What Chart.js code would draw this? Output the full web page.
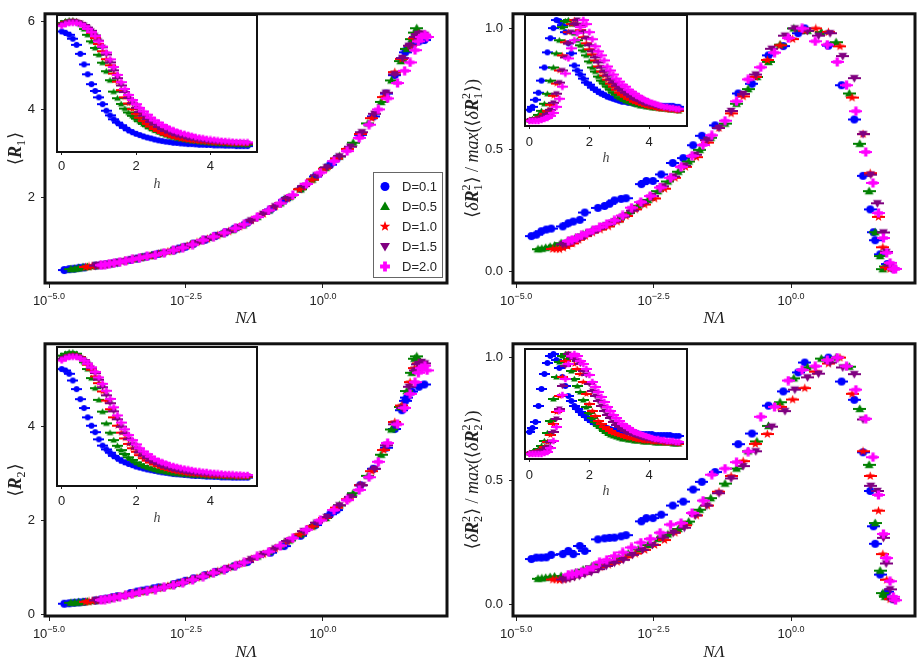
<!DOCTYPE html>
<html>
<head>
<meta charset="utf-8">
<script src="https://cdn.jsdelivr.net/npm/chart.js@4.4.1/dist/chart.umd.min.js"></script>
<style>
  body{margin:0;background:#fff;width:922px;height:664px;overflow:hidden;position:relative;font-family:'Liberation Sans',Arial,sans-serif}
  canvas{position:absolute}
  #legend{position:absolute;left:373px;top:172px;width:70px;height:106px;border:1px solid #666;box-sizing:border-box;background:#fff}
  .lrow{position:absolute;left:6px;height:16px;display:flex;align-items:center;font-size:13px;color:#222;white-space:nowrap}
  .licon{position:static;margin-right:12px}
</style>
</head>
<body>
<canvas id="p1" width="460" height="330" style="left:0;top:0"></canvas>
<canvas id="p2" width="462" height="330" style="left:460px;top:0"></canvas>
<canvas id="p3" width="460" height="334" style="left:0;top:330px"></canvas>
<canvas id="p4" width="462" height="334" style="left:460px;top:330px"></canvas>
<canvas id="i1" width="230" height="185" style="left:40px;top:10px"></canvas>
<canvas id="i2" width="190" height="159" style="left:510px;top:10px"></canvas>
<canvas id="i3" width="230" height="189" style="left:40px;top:340px"></canvas>
<canvas id="i4" width="190" height="160" style="left:510px;top:342px"></canvas>
<div id="legend"></div>
<script>
// ---- data ----
const seriesLabels = ['D=0.1', 'D=0.5', 'D=1.0', 'D=1.5', 'D=2.0'];
const xTickExp = [-5, -2.5, 0];
const xTickText = ['\u22125.0', '\u22122.5', '0.0'];
const yTicksR1 = [2, 4, 6], yLabelsR1 = ['2', '4', '6'];
const yTicksR2 = [0, 2, 4], yLabelsR2 = ['0', '2', '4'];
const yTicksDR = [0, 0.5, 1], yLabelsDR = ['0.0', '0.5', '1.0'];
const hTicks = [0, 2, 4], hLabels = ['0', '2', '4'];

// log10(N Lambda) of every point, per D
const logNL_D01 = [-4.72,-4.63,-4.54,-4.45,-4.36,-4.15,-4.05,-3.96,-3.84,-3.75,-3.51,-3.39,-3.30,-3.21,-3.09,-3.00,-2.72,-2.63,-2.51,-2.36,-2.15,-1.96,-1.78,-1.62,-1.38,-0.96,-0.71,-0.41,-0.14,0.13,0.25,0.68,0.92,1.15,1.31,1.44,1.50,1.53,1.62,1.75,1.85];
const logNL_D05 = [-4.60,-4.53,-4.46,-4.38,-4.30,-4.18,-4.05,-3.92,-3.78,-3.62,-3.46,-3.30,-3.13,-2.96,-2.78,-2.60,-2.42,-2.24,-2.05,-1.86,-1.66,-1.46,-1.20,-0.99,-0.78,-0.62,-0.41,-0.20,0.05,0.30,0.55,0.82,1.06,1.25,1.42,1.53,1.62,1.67,1.71];
const logNL_D10 = [-4.33,-4.27,-4.21,-4.14,-4.06,-3.97,-3.86,-3.74,-3.61,-3.47,-3.32,-3.16,-3.00,-2.83,-2.66,-2.48,-2.30,-2.11,-1.92,-1.72,-1.52,-1.31,-1.09,-0.87,-0.65,-0.43,-0.20,0.03,0.25,0.45,0.68,0.89,1.11,1.31,1.44,1.59,1.67,1.74,1.80];
const logNL_D15 = [-4.15,-4.09,-4.02,-3.94,-3.85,-3.75,-3.63,-3.50,-3.36,-3.21,-3.05,-2.88,-2.70,-2.52,-2.33,-2.14,-1.94,-1.74,-1.53,-1.31,-1.09,-0.87,-0.64,-0.35,-0.11,0.07,0.30,0.50,0.71,0.94,1.15,1.31,1.45,1.57,1.68,1.73,1.80,1.86];
const logNL_D20 = [-4.05,-3.98,-3.90,-3.81,-3.71,-3.60,-3.48,-3.35,-3.21,-3.06,-2.90,-2.73,-2.56,-2.38,-2.19,-2.00,-1.80,-1.60,-1.44,-1.20,-0.99,-0.78,-0.55,-0.30,-0.05,0.20,0.44,0.66,0.84,1.01,1.18,1.36,1.49,1.59,1.68,1.74,1.80,1.86,1.90];

const R1_D01 = [0.34,0.36,0.37,0.39,0.40,0.44,0.45,0.47,0.49,0.51,0.57,0.60,0.63,0.65,0.68,0.71,0.79,0.83,0.87,0.94,1.03,1.12,1.20,1.28,1.42,1.72,1.93,2.19,2.47,2.74,2.88,3.42,3.84,4.36,4.78,5.15,5.30,5.37,5.48,5.55,5.58];
const R1_D05 = [0.36,0.37,0.38,0.40,0.41,0.43,0.45,0.47,0.51,0.55,0.59,0.63,0.67,0.72,0.77,0.84,0.92,1.0,1.08,1.16,1.25,1.36,1.55,1.70,1.86,2.0,2.18,2.40,2.67,2.93,3.24,3.68,4.17,4.66,5.10,5.38,5.60,5.75,5.85];
const R1_D10 = [0.41,0.42,0.43,0.44,0.45,0.46,0.48,0.51,0.55,0.59,0.62,0.66,0.71,0.76,0.81,0.89,0.97,1.05,1.13,1.22,1.33,1.47,1.62,1.79,1.97,2.18,2.40,2.65,2.88,3.10,3.44,3.80,4.28,4.85,5.15,5.45,5.62,5.72,5.70];
const R1_D15 = [0.44,0.45,0.46,0.47,0.49,0.51,0.54,0.58,0.61,0.65,0.69,0.74,0.80,0.87,0.95,1.04,1.12,1.21,1.32,1.47,1.62,1.79,1.98,2.25,2.50,2.68,2.93,3.15,3.48,3.90,4.38,4.80,5.17,5.45,5.65,5.72,5.73,5.70];
const R1_D20 = [0.45,0.46,0.48,0.50,0.52,0.55,0.58,0.61,0.65,0.68,0.73,0.79,0.85,0.92,1.02,1.10,1.19,1.29,1.38,1.55,1.70,1.86,2.05,2.30,2.56,2.82,3.05,3.35,3.65,4.0,4.25,4.60,4.88,5.07,5.35,5.55,5.65,5.70,5.65];

const dR1_D01 = [0.145,0.151,0.165,0.172,0.176,0.185,0.198,0.205,0.212,0.242,0.261,0.269,0.278,0.292,0.298,0.301,0.359,0.372,0.372,0.399,0.446,0.466,0.519,0.558,0.601,0.732,0.772,0.889,0.927,0.98,1.0,0.929,0.766,0.625,0.393,0.255,0.161,0.128,0.07,0.03,0.012];
const dR1_D05 = [0.091,0.093,0.097,0.101,0.106,0.116,0.126,0.138,0.152,0.168,0.182,0.196,0.214,0.24,0.27,0.294,0.33,0.37,0.41,0.452,0.5,0.55,0.608,0.69,0.75,0.80,0.862,0.933,1.0,0.99,0.985,0.943,0.732,0.525,0.33,0.161,0.063,0.009,0.02];
const dR1_D10 = [0.092,0.092,0.091,0.097,0.105,0.115,0.13,0.145,0.16,0.172,0.185,0.205,0.228,0.255,0.275,0.30,0.34,0.385,0.43,0.47,0.53,0.59,0.65,0.72,0.80,0.87,0.93,0.956,0.99,1.0,0.985,0.926,0.715,0.565,0.404,0.224,0.099,0.016,0.01];
const dR1_D15 = [0.111,0.112,0.12,0.128,0.135,0.148,0.16,0.175,0.19,0.205,0.225,0.25,0.28,0.31,0.35,0.39,0.435,0.48,0.54,0.59,0.66,0.73,0.81,0.916,0.97,1.0,0.99,0.97,0.98,0.886,0.795,0.565,0.398,0.28,0.16,0.08,0.023,0.01];
const dR1_D20 = [0.125,0.13,0.138,0.148,0.158,0.17,0.182,0.195,0.21,0.23,0.262,0.285,0.31,0.345,0.385,0.43,0.475,0.52,0.56,0.62,0.70,0.79,0.84,0.90,0.96,1.0,0.947,0.933,0.862,0.766,0.659,0.491,0.364,0.24,0.137,0.076,0.035,0.009,0.01];

const R2_D01 = [0.22,0.23,0.24,0.25,0.26,0.29,0.31,0.33,0.36,0.38,0.45,0.48,0.50,0.52,0.55,0.57,0.64,0.67,0.71,0.76,0.83,0.90,0.96,1.02,1.11,1.31,1.45,1.67,1.90,2.13,2.22,2.75,3.10,3.55,3.95,4.35,4.55,4.62,4.75,4.85,4.90];
const R2_D05 = [0.24,0.245,0.25,0.255,0.265,0.28,0.30,0.32,0.36,0.40,0.44,0.48,0.52,0.56,0.61,0.67,0.73,0.79,0.86,0.93,1.01,1.09,1.23,1.33,1.46,1.57,1.70,1.87,2.05,2.32,2.58,2.95,3.40,3.94,4.42,4.76,5.15,5.45,5.50];
const R2_D10 = [0.26,0.27,0.28,0.29,0.30,0.32,0.34,0.37,0.40,0.44,0.47,0.51,0.55,0.60,0.65,0.71,0.77,0.84,0.91,0.99,1.07,1.17,1.28,1.40,1.55,1.70,1.87,2.05,2.27,2.45,2.75,3.05,3.50,4.10,4.45,4.95,5.25,5.35,5.35];
const R2_D15 = [0.29,0.30,0.31,0.32,0.34,0.36,0.39,0.42,0.46,0.49,0.53,0.58,0.63,0.69,0.76,0.83,0.90,0.98,1.06,1.17,1.28,1.40,1.56,1.77,1.95,2.07,2.32,2.50,2.75,3.10,3.60,4.05,4.40,4.85,5.20,5.33,5.38,5.35];
const R2_D20 = [0.30,0.31,0.33,0.35,0.37,0.40,0.43,0.46,0.49,0.52,0.57,0.62,0.67,0.73,0.80,0.88,0.95,1.03,1.10,1.23,1.33,1.46,1.62,1.80,2.00,2.22,2.43,2.65,2.92,3.25,3.65,4.05,4.40,4.70,4.95,5.15,5.25,5.30,5.20];

const dR2_D01 = [0.183,0.189,0.189,0.19,0.20,0.203,0.216,0.203,0.236,0.216,0.263,0.267,0.269,0.27,0.275,0.28,0.336,0.349,0.349,0.363,0.40,0.416,0.465,0.496,0.536,0.649,0.692,0.805,0.863,0.94,0.98,1.0,0.903,0.829,0.616,0.459,0.316,0.245,0.12,0.05,0.02];
const dR2_D05 = [0.103,0.105,0.107,0.110,0.112,0.114,0.118,0.128,0.14,0.154,0.163,0.172,0.188,0.205,0.222,0.24,0.265,0.283,0.305,0.335,0.383,0.43,0.489,0.55,0.62,0.66,0.723,0.819,0.916,0.96,0.996,1.0,0.963,0.792,0.565,0.329,0.136,0.045,0.03];
const dR2_D10 = [0.10,0.10,0.098,0.10,0.104,0.11,0.118,0.13,0.142,0.15,0.16,0.172,0.19,0.205,0.22,0.24,0.26,0.29,0.32,0.36,0.40,0.456,0.52,0.58,0.65,0.69,0.80,0.83,0.876,0.943,0.976,1.0,0.853,0.62,0.52,0.379,0.203,0.099,0.02];
const dR2_D15 = [0.10,0.102,0.105,0.11,0.115,0.122,0.13,0.142,0.155,0.168,0.18,0.20,0.22,0.24,0.27,0.29,0.31,0.36,0.40,0.45,0.51,0.56,0.62,0.72,0.783,0.87,0.92,0.935,0.98,0.96,0.933,0.749,0.48,0.459,0.269,0.165,0.06,0.02];
const dR2_D20 = [0.12,0.122,0.125,0.13,0.14,0.15,0.17,0.18,0.195,0.21,0.23,0.25,0.265,0.29,0.323,0.329,0.37,0.42,0.525,0.55,0.576,0.619,0.76,0.80,0.907,0.95,0.965,0.99,1.0,0.965,0.87,0.752,0.596,0.443,0.285,0.187,0.093,0.03,0.016];

// insets: quantity against h
const hGrid = [0,0.1,0.2,0.3,0.4,0.5,0.6,0.7,0.8,0.9,1,1.1,1.2,1.3,1.4,1.5,1.6,1.7,1.8,1.9,2,2.1,2.2,2.3,2.4,2.5,2.6,2.7,2.8,2.9,3,3.1,3.2,3.3,3.4,3.5,3.6,3.7,3.8,3.9,4,4.1,4.2,4.3,4.4,4.5,4.6,4.7,4.8,4.9,5];

const inR1_D01 = [5.49,5.43,5.34,5.16,4.88,4.47,3.99,3.54,3.09,2.78,2.49,2.18,1.88,1.67,1.49,1.34,1.22,1.10,0.99,0.90,0.83,0.77,0.71,0.66,0.62,0.57,0.53,0.50,0.47,0.45,0.42,0.41,0.39,0.38,0.36,0.36,0.35,0.33,0.33,0.32,0.32,0.30,0.30,0.30,0.29,0.29,0.29,0.27,0.27,0.27,0.27];
const inR1_D05 = [5.88,5.96,6.0,6.0,5.96,5.82,5.60,5.34,5.04,4.74,4.43,4.07,3.68,3.27,2.75,2.45,2.19,1.98,1.80,1.65,1.52,1.40,1.28,1.17,1.08,0.99,0.92,0.84,0.78,0.72,0.68,0.63,0.60,0.57,0.54,0.51,0.50,0.47,0.45,0.44,0.42,0.41,0.39,0.39,0.38,0.36,0.36,0.35,0.35,0.35,0.33];
const inR1_D10 = [5.82,5.90,5.94,5.96,5.94,5.88,5.78,5.63,5.43,5.19,4.92,4.59,4.23,3.95,3.57,3.20,2.82,2.49,2.21,1.95,1.74,1.56,1.41,1.28,1.16,1.05,0.96,0.87,0.80,0.74,0.69,0.65,0.60,0.57,0.54,0.51,0.50,0.48,0.47,0.45,0.44,0.42,0.42,0.41,0.41,0.39,0.39,0.39,0.38,0.38,0.38];
const inR1_D15 = [5.79,5.87,5.93,5.94,5.93,5.88,5.79,5.67,5.52,5.31,5.07,4.77,4.44,4.08,3.72,3.36,3.03,2.73,2.46,2.22,2.01,1.82,1.65,1.50,1.37,1.25,1.14,1.05,0.96,0.89,0.83,0.77,0.72,0.68,0.63,0.60,0.57,0.54,0.53,0.50,0.48,0.47,0.45,0.44,0.44,0.42,0.42,0.41,0.41,0.41,0.39];
const inR1_D20 = [5.75,5.82,5.87,5.88,5.87,5.82,5.73,5.61,5.46,5.28,5.04,4.80,4.53,4.22,3.87,3.51,3.18,2.87,2.60,2.37,2.18,2.01,1.85,1.70,1.56,1.44,1.34,1.23,1.14,1.07,0.99,0.93,0.87,0.83,0.78,0.74,0.69,0.66,0.63,0.60,0.57,0.56,0.53,0.51,0.50,0.48,0.47,0.45,0.45,0.44,0.44];

const inR2_D01 = [4.89,4.83,4.69,4.41,4.05,3.63,3.26,2.87,2.52,2.25,1.95,1.69,1.53,1.39,1.26,1.16,1.06,0.99,0.92,0.87,0.81,0.77,0.73,0.69,0.66,0.63,0.60,0.57,0.55,0.53,0.50,0.49,0.48,0.46,0.45,0.43,0.42,0.42,0.41,0.39,0.39,0.38,0.38,0.36,0.36,0.36,0.35,0.35,0.35,0.35,0.35];
const inR2_D05 = [5.45,5.53,5.59,5.59,5.53,5.39,5.17,4.89,4.51,4.09,3.60,3.11,2.62,2.23,1.92,1.68,1.50,1.34,1.20,1.09,0.99,0.91,0.84,0.78,0.73,0.69,0.64,0.62,0.59,0.56,0.53,0.52,0.50,0.49,0.48,0.46,0.45,0.45,0.43,0.43,0.42,0.42,0.41,0.41,0.41,0.39,0.39,0.39,0.39,0.39,0.38];
const inR2_D10 = [5.31,5.39,5.45,5.46,5.45,5.38,5.25,5.07,4.86,4.58,4.30,3.95,3.57,3.21,2.87,2.52,2.23,1.99,1.76,1.58,1.43,1.29,1.16,1.06,0.98,0.90,0.83,0.77,0.71,0.67,0.63,0.60,0.57,0.55,0.52,0.50,0.49,0.48,0.46,0.45,0.43,0.43,0.42,0.42,0.41,0.41,0.41,0.39,0.39,0.39,0.39];
const inR2_D15 = [5.31,5.38,5.42,5.43,5.42,5.36,5.26,5.12,4.94,4.72,4.44,4.13,3.79,3.46,3.12,2.79,2.48,2.20,1.96,1.75,1.57,1.41,1.27,1.16,1.06,0.98,0.91,0.84,0.78,0.74,0.70,0.66,0.63,0.60,0.57,0.55,0.53,0.52,0.50,0.49,0.48,0.46,0.46,0.45,0.45,0.43,0.43,0.43,0.42,0.42,0.42];
const inR2_D20 = [5.25,5.33,5.39,5.40,5.39,5.33,5.24,5.11,4.96,4.77,4.54,4.27,3.98,3.64,3.29,2.95,2.65,2.37,2.13,1.92,1.74,1.58,1.44,1.33,1.23,1.13,1.06,0.99,0.94,0.88,0.84,0.80,0.76,0.73,0.70,0.67,0.64,0.62,0.60,0.59,0.56,0.55,0.53,0.52,0.50,0.50,0.49,0.48,0.48,0.46,0.46];

const inDR1_D01 = [0.11,0.14,0.21,0.28,0.40,0.53,0.68,0.82,0.92,1.0,0.99,0.95,0.88,0.77,0.67,0.55,0.50,0.46,0.42,0.38,0.36,0.33,0.31,0.29,0.27,0.26,0.24,0.23,0.22,0.21,0.20,0.19,0.19,0.18,0.18,0.17,0.17,0.17,0.16,0.16,0.16,0.16,0.16,0.15,0.15,0.15,0.15,0.15,0.15,0.14,0.14];
const inDR1_D05 = [0.01,0.02,0.03,0.06,0.10,0.17,0.27,0.40,0.53,0.67,0.80,0.93,0.99,1.0,0.96,0.87,0.80,0.75,0.70,0.65,0.59,0.53,0.49,0.44,0.40,0.37,0.34,0.31,0.28,0.26,0.23,0.22,0.20,0.19,0.18,0.17,0.16,0.15,0.15,0.14,0.14,0.13,0.13,0.13,0.12,0.12,0.12,0.11,0.11,0.11,0.10];
const inDR1_D10 = [0.01,0.01,0.02,0.03,0.04,0.07,0.10,0.16,0.25,0.37,0.50,0.65,0.78,0.88,0.96,1.0,0.96,0.90,0.83,0.77,0.71,0.66,0.60,0.54,0.49,0.45,0.41,0.37,0.34,0.31,0.28,0.26,0.24,0.22,0.21,0.19,0.18,0.17,0.16,0.15,0.14,0.14,0.13,0.12,0.12,0.12,0.11,0.11,0.11,0.10,0.10];
const inDR1_D15 = [0.0,0.01,0.01,0.02,0.03,0.04,0.07,0.11,0.18,0.27,0.38,0.50,0.63,0.77,0.88,0.96,1.0,0.95,0.88,0.82,0.75,0.69,0.63,0.58,0.53,0.49,0.45,0.41,0.38,0.35,0.32,0.30,0.28,0.26,0.24,0.22,0.21,0.20,0.18,0.17,0.16,0.16,0.15,0.14,0.14,0.13,0.13,0.12,0.12,0.12,0.11];
const inDR1_D20 = [0.0,0.0,0.0,0.0,0.01,0.02,0.03,0.05,0.08,0.14,0.22,0.34,0.47,0.62,0.72,0.80,0.87,0.93,1.0,0.96,0.88,0.81,0.74,0.69,0.65,0.60,0.54,0.50,0.46,0.42,0.39,0.36,0.34,0.31,0.29,0.27,0.25,0.23,0.22,0.20,0.19,0.18,0.17,0.16,0.15,0.14,0.14,0.13,0.13,0.12,0.12];

const inDR2_D01 = [0.22,0.26,0.32,0.48,0.65,0.80,0.91,0.98,1.0,0.94,0.86,0.77,0.68,0.58,0.53,0.48,0.45,0.42,0.39,0.37,0.34,0.32,0.30,0.29,0.28,0.27,0.26,0.25,0.24,0.24,0.23,0.23,0.22,0.22,0.21,0.21,0.21,0.20,0.20,0.20,0.20,0.20,0.19,0.19,0.19,0.19,0.19,0.19,0.18,0.18,0.18];
const inDR2_D05 = [0.01,0.02,0.03,0.05,0.08,0.13,0.21,0.33,0.55,0.77,0.92,0.98,1.0,0.95,0.83,0.75,0.68,0.62,0.54,0.47,0.41,0.36,0.32,0.28,0.26,0.23,0.21,0.19,0.18,0.17,0.16,0.15,0.15,0.14,0.14,0.13,0.13,0.13,0.12,0.12,0.12,0.12,0.11,0.11,0.11,0.11,0.11,0.11,0.10,0.10,0.10];
const inDR2_D10 = [0.01,0.01,0.02,0.03,0.04,0.07,0.12,0.19,0.30,0.42,0.58,0.77,0.93,1.0,0.97,0.90,0.85,0.80,0.72,0.60,0.50,0.43,0.38,0.33,0.30,0.27,0.25,0.23,0.21,0.20,0.19,0.18,0.17,0.16,0.16,0.15,0.14,0.14,0.13,0.13,0.13,0.12,0.12,0.12,0.12,0.11,0.11,0.11,0.11,0.11,0.10];
const inDR2_D15 = [0.0,0.01,0.01,0.02,0.03,0.04,0.07,0.12,0.22,0.35,0.45,0.68,0.88,1.0,0.97,0.95,0.93,0.90,0.83,0.79,0.70,0.63,0.58,0.53,0.48,0.43,0.39,0.36,0.32,0.29,0.27,0.25,0.23,0.21,0.20,0.19,0.18,0.17,0.16,0.15,0.15,0.14,0.14,0.13,0.13,0.12,0.12,0.12,0.11,0.11,0.11];
const inDR2_D20 = [0.0,0.0,0.0,0.0,0.0,0.01,0.02,0.06,0.13,0.27,0.43,0.59,0.75,0.90,0.98,1.0,0.98,0.93,0.90,0.85,0.79,0.72,0.67,0.62,0.57,0.52,0.47,0.43,0.39,0.36,0.33,0.30,0.28,0.26,0.24,0.22,0.21,0.20,0.19,0.18,0.17,0.16,0.15,0.15,0.14,0.14,0.13,0.13,0.13,0.12,0.12];

// ---- styles ----
const colors = ['#0000ff', '#008000', '#ff0000', '#800080', '#ff00ff'];
const shapes = ['circle', 'triUp', 'star', 'triDown', 'plus'];
const ink = '#222';
Chart.defaults.font.family = "'Liberation Sans', Arial, sans-serif";
Chart.defaults.color = ink;

// marker with its small error-bar cap, drawn once and reused as pointStyle
function makeMarker(shape, color, s, bar){
    const w = Math.ceil(s + (bar ? 5 : 1)), h = Math.ceil(s + 2);
    const c = document.createElement('canvas');
    c.width = w; c.height = h;
    const g = c.getContext('2d');
    g.fillStyle = color;
    const cx = w / 2, cy = h / 2, r = s / 2;
    if(bar) g.fillRect(0, cy - 1, w, 2);
    g.beginPath();
    if(shape === 'circle') g.arc(cx, cy, r, 0, Math.PI * 2);
    else if(shape === 'triUp'){ g.moveTo(cx, cy - r*1.1); g.lineTo(cx + r*1.1, cy + r*0.8); g.lineTo(cx - r*1.1, cy + r*0.8); }
    else if(shape === 'triDown'){ g.moveTo(cx, cy + r*1.1); g.lineTo(cx + r*1.1, cy - r*0.8); g.lineTo(cx - r*1.1, cy - r*0.8); }
    else if(shape === 'star'){
        for(let k = 0; k < 10; k++){
            const a = -Math.PI/2 + k*Math.PI/5, rr = k % 2 ? r*0.5 : r*1.2;
            g.lineTo(cx + rr*Math.cos(a), cy + rr*Math.sin(a));
        }
    }
    else if(shape === 'plus'){ const t = s*0.42; g.rect(cx - r*1.1, cy - t/2, r*2.2, t); g.rect(cx - t/2, cy - r*1.1, t, r*2.2); }
    g.closePath(); g.fill();
    return c;
}
const mainMarkers = shapes.map((s, i) => makeMarker(s, colors[i], 8, true));
const insetMarkers = shapes.map((s, i) => makeMarker(s, colors[i], 6, true));

// ---- small drawing helpers ----
const SERIF = '"Liberation Serif", "DejaVu Serif", serif';
const F = '18px ' + SERIF, FI = 'italic 18px ' + SERIF, FB = 'italic bold 18px ' + SERIF, FS = '12px ' + SERIF;
function titleR(n){ return [{t:'\u27e8', f:F}, {t:'R', f:FB}, {sub:n}, {t:'\u27e9', f:F}]; }
function titleDR(n){
    return [{t:'\u27e8', f:F}, {t:'\u03b4', f:FI}, {t:'R', f:FB}, {sup:'2', sub:n}, {t:'\u27e9 / ', f:F},
            {t:'max', f:FI}, {t:'(\u27e8', f:F}, {t:'\u03b4', f:FI}, {t:'R', f:FB}, {sup:'2', sub:n}, {t:'\u27e9)', f:F}];
}
function drawRich(ctx, parts, x, y, rot){
    ctx.save();
    ctx.translate(x, y); ctx.rotate(rot);
    ctx.fillStyle = ink; ctx.textBaseline = 'alphabetic';
    const ws = parts.map(p => {
        if(p.t !== undefined){ ctx.font = p.f; return ctx.measureText(p.t).width; }
        ctx.font = FS;
        return Math.max(ctx.measureText(p.sup || '').width, ctx.measureText(p.sub || '').width) + 1;
    });
    let px = -ws.reduce((a, b) => a + b, 0) / 2;
    const base = 6;
    parts.forEach((p, i) => {
        if(p.t !== undefined){ ctx.font = p.f; ctx.fillText(p.t, px, base); }
        else{
            ctx.font = FS;
            if(p.sup) ctx.fillText(p.sup, px, base - 8);
            if(p.sub) ctx.fillText(p.sub, px, base + 4);
        }
        px += ws[i];
    });
    ctx.restore();
}

function framePlugin(lw, fillWhite){
    return {
        id: 'frame',
        beforeDatasetsDraw(chart){
            if(!fillWhite) return;
            const a = chart.chartArea, c = chart.ctx;
            c.save(); c.fillStyle = '#fff';
            c.fillRect(a.left, a.top, a.right - a.left, a.bottom - a.top);
            c.restore();
        },
        afterDraw(chart){
            const a = chart.chartArea, c = chart.ctx;
            c.save(); c.strokeStyle = '#111'; c.lineWidth = lw;
            c.strokeRect(a.left, a.top, a.right - a.left, a.bottom - a.top);
            c.restore();
        }
    };
}
// "10" with a raised exponent under each log tick
const powerLabels = {
    id: 'powerLabels',
    afterDraw(chart){
        const c = chart.ctx, sx = chart.scales.x, y = chart.chartArea.bottom + 22;
        c.save(); c.fillStyle = ink; c.textBaseline = 'alphabetic';
        xTickExp.forEach((e, i) => {
            const px = sx.getPixelForValue(Math.pow(10, e));
            c.font = "13px 'Liberation Sans', Arial, sans-serif";
            const w1 = c.measureText('10').width;
            c.font = "9px 'Liberation Sans', Arial, sans-serif";
            const w2 = c.measureText(xTickText[i]).width;
            const x0 = px - (w1 + w2) / 2;
            c.font = "13px 'Liberation Sans', Arial, sans-serif";
            c.fillText('10', x0, y);
            c.font = "9px 'Liberation Sans', Arial, sans-serif";
            c.fillText(xTickText[i], x0 + w1, y - 6);
        });
        c.restore();
    }
};
function yTitlePlugin(parts, cx){
    return { id: 'ytitle', afterDraw(chart){ const a = chart.chartArea; drawRich(chart.ctx, parts, cx, (a.top + a.bottom) / 2, -Math.PI / 2); } };
}

// ---- main panels ----
function buildMain(cfg){
    const canvas = document.getElementById(cfg.id);
    const W = canvas.width, H = canvas.height, [L, T, R, B] = cfg.area;
    const datasets = cfg.series.map((s, i) => ({
        label: seriesLabels[i],
        data: s.x.map((e, k) => ({x: Math.pow(10, e), y: s.y[k]})),
        pointStyle: mainMarkers[i], pointRadius: 4, order: 4 - i
    }));
    new Chart(canvas, {
        type: 'scatter',
        data: {datasets},
        options: {
            responsive: false, animation: false, devicePixelRatio: 1,
            layout: {padding: {left: 0, top: T, right: W - R, bottom: 0}},
            plugins: {legend: {display: false}, tooltip: {enabled: false}},
            scales: {
                x: {
                    type: 'logarithmic', min: Math.pow(10, cfg.xr[0]), max: Math.pow(10, cfg.xr[1]),
                    afterBuildTicks: s => { s.ticks = xTickExp.map(e => ({value: Math.pow(10, e)})); },
                    afterFit: s => { s.height = H - B; },
                    ticks: {callback: () => '', maxRotation: 0},
                    grid: {drawOnChartArea: false, tickLength: 5, color: ink},
                    border: {display: false},
                    title: {display: true, text: 'N\u039b', color: ink, padding: {top: 0, bottom: 1},
                            font: {family: SERIF, style: 'italic', size: 17}}
                },
                y: {
                    min: cfg.yr[0], max: cfg.yr[1],
                    afterBuildTicks: s => { s.ticks = cfg.yTicks.map(v => ({value: v})); },
                    afterFit: s => { s.width = L; },
                    ticks: {callback: v => cfg.yLabels[cfg.yTicks.indexOf(v)], font: {size: 13}, padding: 6, color: ink},
                    grid: {drawOnChartArea: false, tickLength: 4, color: ink},
                    border: {display: false}
                }
            }
        },
        plugins: [framePlugin(3, false), powerLabels, yTitlePlugin(cfg.title, cfg.titleX)]
    });
}

buildMain({id: 'p1', area: [45, 7, 447, 283], xr: [-5.073, 2.263], yr: [0.044, 6.178], yTicks: yTicksR1, yLabels: yLabelsR1,
    title: titleR('1'), titleX: 15,
    series: [{x: logNL_D01, y: R1_D01}, {x: logNL_D05, y: R1_D05}, {x: logNL_D10, y: R1_D10}, {x: logNL_D15, y: R1_D15}, {x: logNL_D20, y: R1_D20}]});
buildMain({id: 'p2', area: [53, 7, 455, 283], xr: [-5.055, 2.2545], yr: [-0.048, 1.060], yTicks: yTicksDR, yLabels: yLabelsDR,
    title: titleDR('1'), titleX: 12,
    series: [{x: logNL_D01, y: dR1_D01}, {x: logNL_D05, y: dR1_D05}, {x: logNL_D10, y: dR1_D10}, {x: logNL_D15, y: dR1_D15}, {x: logNL_D20, y: dR1_D20}]});
buildMain({id: 'p3', area: [45, 10, 447, 286], xr: [-5.073, 2.263], yr: [-0.042, 5.768], yTicks: yTicksR2, yLabels: yLabelsR2,
    title: titleR('2'), titleX: 15,
    series: [{x: logNL_D01, y: R2_D01}, {x: logNL_D05, y: R2_D05}, {x: logNL_D10, y: R2_D10}, {x: logNL_D15, y: R2_D15}, {x: logNL_D20, y: R2_D20}]});
buildMain({id: 'p4', area: [53, 10, 455, 286], xr: [-5.055, 2.2545], yr: [-0.048, 1.056], yTicks: yTicksDR, yLabels: yLabelsDR,
    title: titleDR('2'), titleX: 12,
    series: [{x: logNL_D01, y: dR2_D01}, {x: logNL_D05, y: dR2_D05}, {x: logNL_D10, y: dR2_D10}, {x: logNL_D15, y: dR2_D15}, {x: logNL_D20, y: dR2_D20}]});

// ---- insets ----
function buildInset(cfg){
    const canvas = document.getElementById(cfg.id);
    const W = canvas.width, H = canvas.height, [L, T, R, B] = cfg.area;
    const datasets = cfg.series.map((ys, i) => ({
        label: seriesLabels[i],
        data: hGrid.map((h, k) => ({x: h, y: ys[k]})),
        pointStyle: insetMarkers[i], pointRadius: 3, order: 4 - i
    }));
    new Chart(canvas, {
        type: 'scatter',
        data: {datasets},
        options: {
            responsive: false, animation: false, devicePixelRatio: 1,
            layout: {padding: {left: 0, top: T, right: W - R, bottom: 0}},
            plugins: {legend: {display: false}, tooltip: {enabled: false}},
            scales: {
                x: {
                    min: cfg.xr[0], max: cfg.xr[1],
                    afterBuildTicks: s => { s.ticks = hTicks.map(v => ({value: v})); },
                    afterFit: s => { s.height = H - B; },
                    ticks: {callback: v => hLabels[hTicks.indexOf(v)], font: {size: 13}, padding: cfg.pad, color: ink, maxRotation: 0},
                    grid: {drawOnChartArea: false, tickLength: 3, color: ink},
                    border: {display: false},
                    title: {display: true, text: 'h', color: '#444', padding: {top: 0, bottom: 2},
                            font: {family: SERIF, style: 'italic', size: 14}}
                },
                y: {
                    min: cfg.yr[0], max: cfg.yr[1],
                    afterFit: s => { s.width = L; },
                    ticks: {display: false}, grid: {display: false}, border: {display: false}
                }
            }
        },
        plugins: [framePlugin(2, true)]
    });
}

buildInset({id: 'i1', area: [17, 4, 217, 142], xr: [-0.127, 5.255], yr: [0, 6.24], pad: 4,
    series: [inR1_D01, inR1_D05, inR1_D10, inR1_D15, inR1_D20]});
buildInset({id: 'i2', area: [15, 5, 177, 116], xr: [-0.15, 5.27], yr: [-0.05, 1.05], pad: 6,
    series: [inDR1_D01, inDR1_D05, inDR1_D10, inDR1_D15, inDR1_D20]});
buildInset({id: 'i3', area: [17, 7, 217, 146], xr: [-0.127, 5.255], yr: [0, 5.81], pad: 5,
    series: [inR2_D01, inR2_D05, inR2_D10, inR2_D15, inR2_D20]});
buildInset({id: 'i4', area: [15, 7, 177, 117], xr: [-0.15, 5.27], yr: [-0.05, 1.05], pad: 6,
    series: [inDR2_D01, inDR2_D05, inDR2_D10, inDR2_D15, inDR2_D20]});

// ---- legend (top-left panel) ----
const legend = document.getElementById('legend');
seriesLabels.forEach((lab, i) => {
    const row = document.createElement('div');
    row.className = 'lrow';
    row.style.top = (5 + i * 20) + 'px';
    const icon = makeMarker(shapes[i], colors[i], 9, false);
    icon.className = 'licon';
    row.appendChild(icon);
    const txt = document.createElement('span');
    txt.textContent = lab;
    row.appendChild(txt);
    legend.appendChild(row);
});
</script>
</body>
</html>
